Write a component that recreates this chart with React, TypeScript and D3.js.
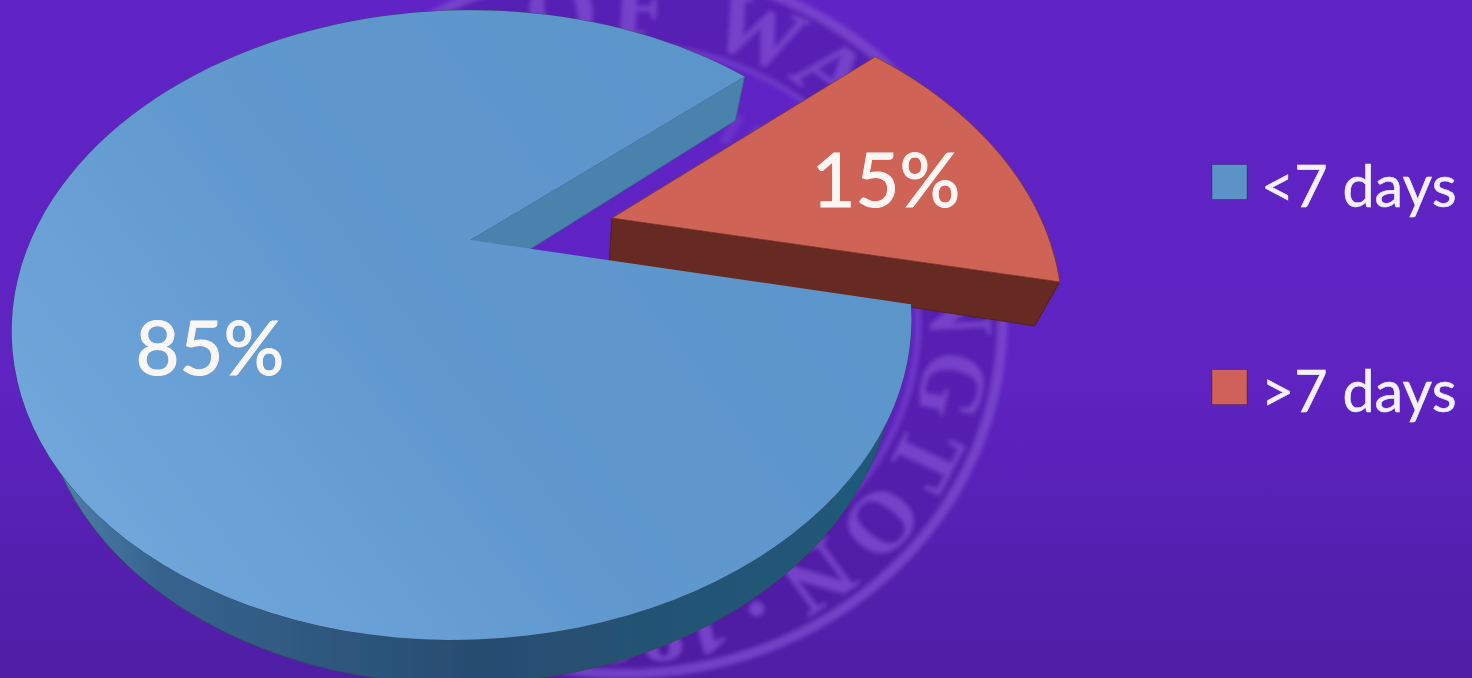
import React, { useEffect, useRef } from "react";
import * as d3 from "d3";

const categories = ["<7 days", ">7 days"];
const shares = [85, 15];
const shareLabels = ["85%", "15%"];
const topColors = ["#5f9acf", "#cf6354"];
const legendColors = ["#5b93c9", "#d0605a"];

const width = 1472;
const height = 678;
const deg = Math.PI / 180;

// perspective of the pie's top face, worked out from the apex and rim in the picture
const apexX = 470;
const apexY = 240;
const radiusX = 433;
const radiusY = 227;
const tiltY = -0.27;
const tiltX = 0.018;
const explode = [0.336, -0.072];
const redScale = 1.035;
const redSkew = 0.06;
const depth = 44;
const lean = 0.05;
const leanX = 560;

const project = (x: number, y: number): [number, number] => {
  const w = 1 + tiltY * y + tiltX * x;
  return [apexX + (radiusX * x) / w, (radiusY * y + apexY) / w];
};
const lower = (p: [number, number]): [number, number] => [p[0] + lean * (leanX - p[0]), p[1] + depth];

export default function App() {
  const ref = useRef<SVGSVGElement>(null);

  useEffect(() => {
    const svg = d3.select(ref.current);
    svg.selectAll("*").remove();
    const line = d3.line();
    const closed = (pts: [number, number][]) => line(pts) + "Z";

    const defs = svg.append("defs");
    const gradient = (id: string, x1: number, y1: number, x2: number, y2: number, stops: [number, string][]) => {
      const g = defs.append("linearGradient").attr("id", id).attr("gradientUnits", "userSpaceOnUse")
        .attr("x1", x1).attr("y1", y1).attr("x2", x2).attr("y2", y2);
      stops.forEach(([o, c]) => g.append("stop").attr("offset", o).attr("stop-color", c));
    };
    gradient("bg", 0, 0, 0, height, [[0, "#6024c6"], [0.55, "#5f23c2"], [1, "#4e1ea4"]]);
    gradient("blueTop", 120, 620, 760, 120, [[0, "#72a8dc"], [0.45, "#6199cf"], [1, "#5b95ca"]]);
    gradient("blueRim", 60, 0, 880, 0, [[0, "#4d7fa8"], [0.12, "#36648f"], [0.5, "#284d70"], [1, "#1f5a78"]]);
    defs.append("filter").attr("id", "soft").append("feGaussianBlur").attr("stdDeviation", 0.7);
    defs.append("filter").attr("id", "softer").append("feGaussianBlur").attr("stdDeviation", 2);
    defs.append("path").attr("id", "sealText").attr("d", "M 0 272 A 272 272 0 1 1 0 -272 A 272 272 0 1 1 0 272");

    svg.append("rect").attr("width", width).attr("height", height).attr("fill", "url(#bg)");

    // faded university seal behind the pie
    const seal = svg.append("g")
      .attr("transform", "translate(625,320) scale(1.12,1.05)")
      .attr("filter", "url(#softer)")
      .attr("fill", "none");
    seal.append("circle").attr("r", 300).attr("stroke", "#4c1a9c").attr("stroke-width", 72).attr("opacity", 0.4);
    seal.append("circle").attr("r", 337).attr("stroke", "#7a48cc").attr("stroke-width", 9).attr("opacity", 0.85);
    seal.append("circle").attr("r", 262).attr("stroke", "#7a48cc").attr("stroke-width", 5).attr("opacity", 0.6);
    seal.append("circle").attr("r", 205).attr("stroke", "#7a48cc").attr("stroke-width", 30).attr("stroke-dasharray", "9 11").attr("opacity", 0.4);
    const sealWords = seal.append("g").attr("fill", "#7a48cc").attr("opacity", 0.9)
      .style("font-family", "'Liberation Serif', serif").style("font-weight", "bold").style("font-size", "82px");
    sealWords.append("text").attr("transform", "rotate(31)")
      .append("textPath").attr("href", "#sealText").attr("textLength", 1424).text("UNIVERSITY OF WASHINGTON");
    sealWords.append("text").attr("transform", "rotate(-26)")
      .append("textPath").attr("href", "#sealText").attr("textLength", 223).text("· 1861 ·");

    // shares -> angles, clockwise from 12 o'clock, blue slice starts at the lower cut
    const pie = d3.pie<number>().sort(null).startAngle(103 * deg).endAngle(103 * deg + 2 * Math.PI);
    const slices = pie(shares);

    const rim = (a0: number, a1: number, off: number[], r: number) =>
      d3.range(0, 121).map((i) => {
        const a = a0 + ((a1 - a0) * i) / 120;
        return project(r * Math.sin(a) + off[0], -r * Math.cos(a) + off[1]);
      });

    const pieGroup = svg.append("g").attr("filter", "url(#soft)");

    // red slice first, the blue one sits over its wall
    const red = slices[1];
    const redApex = project(explode[0], explode[1]);
    const redRim = rim(red.startAngle, red.endAngle, explode, redScale)
      .map(([x, y]): [number, number] => [x + redSkew * (redApex[1] - y), y]);
    pieGroup.append("path")
      .attr("d", closed([...redRim, ...redRim.map(lower).reverse()]))
      .attr("fill", "#5e271d");
    const redEnd = redRim[redRim.length - 1];
    pieGroup.append("path")
      .attr("d", closed([redApex, redEnd, lower(redEnd), lower(redApex)]))
      .attr("fill", "#662a20").attr("stroke", "#4d1f18").attr("stroke-width", 0.8);
    pieGroup.append("path")
      .attr("d", closed([redApex, ...redRim]))
      .attr("fill", topColors[1]).attr("stroke", "#7a3a2e").attr("stroke-width", 0.8);

    const blue = slices[0];
    const blueRim = rim(blue.startAngle, blue.endAngle, [0, 0], 1);
    const blueApex = project(0, 0);
    pieGroup.append("path")
      .attr("d", closed([...blueRim, ...blueRim.map(lower).reverse()]))
      .attr("fill", "url(#blueRim)").attr("stroke", "#33495c").attr("stroke-width", 0.8);
    const blueEnd = blueRim[blueRim.length - 1];
    pieGroup.append("path")
      .attr("d", closed([blueApex, blueEnd, lower(blueEnd), lower(blueApex)]))
      .attr("fill", "#4a82ad").attr("stroke", "#3f6f94").attr("stroke-width", 0.8);
    pieGroup.append("path")
      .attr("d", closed([blueApex, ...blueRim]))
      .attr("fill", "url(#blueTop)");

    const labelPos = [[210, 348], [886, 180]];
    svg.append("g").selectAll("text").data(shareLabels).join("text")
      .attr("x", (_, i) => labelPos[i][0])
      .attr("y", (_, i) => labelPos[i][1])
      .attr("dy", "0.35em")
      .attr("text-anchor", "middle")
      .attr("fill", "#fbf6f4")
      .attr("stroke", "#fbf6f4")
      .attr("stroke-width", 1)
      .style("font-family", "Lato, sans-serif")
      .style("font-size", "76px")
      .text((d) => d);

    const legendY = d3.scalePoint<string>().domain(categories).range([182, 387]);
    const legend = svg.append("g").selectAll("g").data(categories).join("g")
      .attr("transform", (d) => `translate(1212,${legendY(d)})`);
    legend.append("rect")
      .attr("y", -17.5).attr("width", 35).attr("height", 35)
      .attr("fill", (_, i) => legendColors[i])
      .attr("stroke", "#00000040");
    legend.append("text")
      .attr("x", 49).attr("y", 4).attr("dy", "0.36em")
      .attr("fill", "#f4f1f8")
      .attr("stroke", "#f4f1f8")
      .attr("stroke-width", 0.5)
      .style("font-family", "Lato, sans-serif")
      .style("font-size", "57.5px")
      .text((d) => d);
  }, []);

  return <svg ref={ref} width={width} height={height} style={{ position: "absolute", left: 0, top: 0 }} />;
}
